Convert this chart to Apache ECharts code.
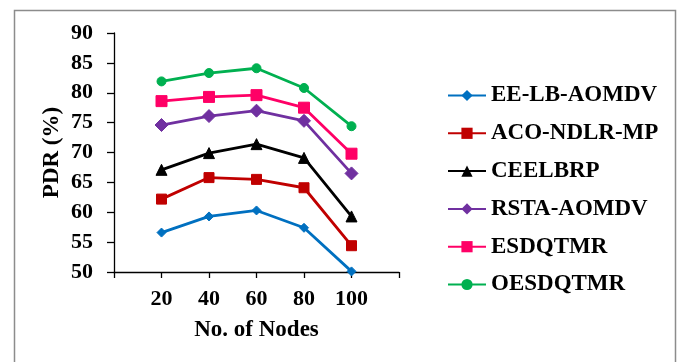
<!DOCTYPE html>
<html>
<head>
<meta charset="utf-8">
<script src="https://cdn.jsdelivr.net/npm/echarts@6/dist/echarts.min.js"></script>
<style>
  html, body { margin: 0; padding: 0; background: #fff; }
  #chart { width: 678px; height: 362px; }
</style>
</head>
<body>
<div id="chart"></div>
<script>
// Number of nodes (x positions) and PDR (%) per routing protocol
const nodes = [20, 40, 60, 80, 100];
const xTicks = [20, 40, 60, 80, 100];
const seriesNames = ['EE-LB-AOMDV', 'ACO-NDLR-MP', 'CEELBRP', 'RSTA-AOMDV', 'ESDQTMR', 'OESDQTMR'];
const eeLbAomdv = [56.6, 59.3, 60.3, 57.4, 50.1];
const acoNdlrMp = [62.2, 65.8, 65.5, 64.1, 54.4];
const ceelbrp   = [67.1, 69.9, 71.4, 69.1, 59.3];
const rstaAomdv = [74.6, 76.1, 77.0, 75.3, 66.5];
const esdqtmr   = [78.6, 79.3, 79.6, 77.5, 69.8];
const oesdqtmr  = [81.9, 83.3, 84.1, 80.8, 74.4];

const values = [eeLbAomdv, acoNdlrMp, ceelbrp, rstaAomdv, esdqtmr, oesdqtmr];
const colors = ['#0070C0', '#C00000', '#000000', '#7030A0', '#FF0066', '#00B050'];
const symbols = ['diamond', 'rect', 'triangle', 'diamond', 'rect', 'circle'];
const symbolSizes = [9, 10, 11, 13, 11, 9];

const serif = '"Liberation Serif", "Times New Roman", serif';

const chart = echarts.init(document.getElementById('chart'), null, { renderer: 'canvas' });

chart.setOption({
  animation: false,
  backgroundColor: '#ffffff',
  graphic: [{
    type: 'rect',
    shape: { x: 14.5, y: 10.5, width: 661, height: 420 },
    style: { fill: 'none', stroke: '#8c8c8c', lineWidth: 1.5 },
    silent: true
  }],
  grid: { left: 114, right: 279, top: 33, bottom: 90 },
  legend: {
    orient: 'vertical',
    left: 447,
    top: 84,
    padding: 0,
    itemWidth: 38,
    itemHeight: 14,
    itemGap: 14.8,
    data: seriesNames,
    textStyle: { fontFamily: serif, fontWeight: 'bold', fontSize: 23, lineHeight: 23, color: '#000' }
  },
  xAxis: {
    type: 'value',
    min: 0,
    max: 120,
    interval: 20,
    name: 'No. of Nodes',
    nameLocation: 'middle',
    nameGap: 47,
    nameTextStyle: { fontFamily: serif, fontWeight: 'bold', fontSize: 23, color: '#000' },
    axisLine: { show: true, lineStyle: { color: '#000', width: 1.3 } },
    axisTick: { show: true, length: 6, lineStyle: { color: '#000', width: 1.3 } },
    splitLine: { show: false },
    axisLabel: {
      margin: 16,
      fontFamily: serif, fontWeight: 'bold', fontSize: 22, color: '#000',
      formatter: v => (xTicks.indexOf(v) >= 0 ? String(v) : '')
    }
  },
  yAxis: {
    type: 'value',
    min: 50,
    max: 90,
    interval: 5,
    name: 'PDR (%)',
    nameLocation: 'middle',
    nameGap: 50,
    nameTextStyle: { fontFamily: serif, fontWeight: 'bold', fontSize: 23, color: '#000' },
    axisLine: { show: true, lineStyle: { color: '#000', width: 1.3 } },
    axisTick: { show: true, length: 7, lineStyle: { color: '#000', width: 1.3 } },
    splitLine: { show: false },
    axisLabel: { margin: 21, fontFamily: serif, fontWeight: 'bold', fontSize: 22, color: '#000' }
  },
  series: seriesNames.map((name, i) => ({
    name: name,
    type: 'line',
    data: nodes.map((n, j) => [n, values[i][j]]),
    symbol: symbols[i],
    symbolSize: symbolSizes[i],
    showAllSymbol: true,
    lineStyle: { color: colors[i], width: 2.8 },
    itemStyle: { color: colors[i], borderColor: colors[i] },
    emphasis: { disabled: true }
  }))
});
</script>
</body>
</html>
